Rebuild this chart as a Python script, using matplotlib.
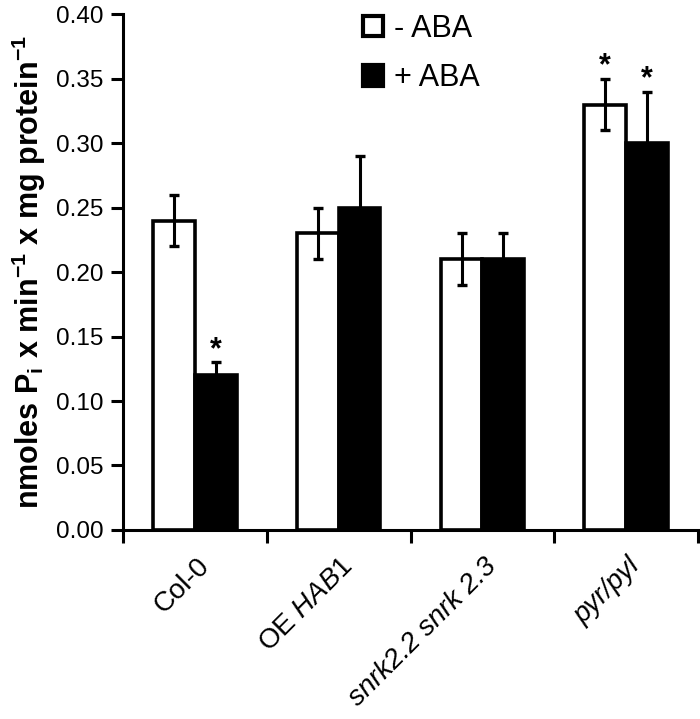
import matplotlib.pyplot as plt
import numpy as np
from matplotlib.patches import Rectangle
from matplotlib.ticker import FormatStrFormatter

plt.rcParams['font.family'] = ['Liberation Sans', 'DejaVu Sans']
plt.rcParams['mathtext.fontset'] = 'custom'
plt.rcParams['mathtext.rm'] = 'Liberation Sans'
plt.rcParams['mathtext.it'] = 'Liberation Sans:italic'
plt.rcParams['mathtext.bf'] = 'Liberation Sans:bold'

# Data
groups = ['Col-0', r'OE $\mathit{HAB1}$', 'snrk2.2 snrk 2.3', 'pyr/pyl']
italic = [False, False, True, True]
minus_aba = [0.24, 0.23, 0.21, 0.33]
minus_err = [0.02, 0.02, 0.02, 0.02]
plus_aba = [0.12, 0.25, 0.21, 0.30]
plus_err = [0.01, 0.04, 0.02, 0.04]
minus_sig = [False, False, False, True]
plus_sig = [True, False, False, True]

x = np.arange(len(groups))
w = 0.29

fig = plt.figure(figsize=(7.0, 7.19), dpi=100)
ax = fig.add_axes([0.176, 0.263, 0.821, 0.717])

err_kw = dict(ecolor='black', elinewidth=2.2, capsize=3.8, capthick=2.4)
ax.bar(x - w / 2, minus_aba, w, yerr=minus_err, color='white', edgecolor='black',
       linewidth=2.6, error_kw=err_kw, zorder=2)
ax.bar(x + w / 2, plus_aba, w, yerr=plus_err, color='black', edgecolor='black',
       linewidth=2.6, error_kw=err_kw, zorder=2)

for i in range(len(groups)):
    if minus_sig[i]:
        ax.text(x[i] - w / 2, minus_aba[i] + minus_err[i] - 0.002, '*', ha='center',
                va='bottom', fontsize=22, fontweight='bold')
    if plus_sig[i]:
        ax.text(x[i] + w / 2, plus_aba[i] + plus_err[i] - 0.002, '*', ha='center',
                va='bottom', fontsize=22, fontweight='bold')

ax.set_xlim(-0.5, len(groups) - 0.5)
ax.set_ylim(0, 0.40)
ax.set_yticks(np.arange(0, 0.401, 0.05))
ax.yaxis.set_major_formatter(FormatStrFormatter('%.2f'))
ax.set_xticks(np.arange(-0.5, len(groups), 1.0))
ax.set_xticklabels([])
for i, lab in enumerate(groups):
    ax.text(x[i] + 0.01, -0.018, lab, rotation=45, ha='right', va='top',
            rotation_mode='anchor', fontsize=20,
            style='italic' if italic[i] else 'normal',
            transform=ax.transData)

for s in ['top', 'right']:
    ax.spines[s].set_visible(False)
for s in ['left', 'bottom']:
    ax.spines[s].set_linewidth(2.2)
ax.tick_params(axis='both', direction='out', length=9, width=2.2, labelsize=17.5, pad=5)

ax.set_ylabel(r'nmoles P$_\mathbf{i}$ x min$^\mathbf{-1}$ x mg protein$^\mathbf{-1}$',
              fontsize=22, fontweight='bold', labelpad=6)

handles = [Rectangle((0, 0), 1, 1, facecolor='white', edgecolor='black', linewidth=3),
           Rectangle((0, 0), 1, 1, facecolor='black', edgecolor='black', linewidth=3)]
ax.legend(handles, ['- ABA', '+ ABA'], loc='upper left', bbox_to_anchor=(0.37, 1.055),
          frameon=False, fontsize=22, handlelength=0.65, handleheight=0.65,
          handletextpad=0.35, labelspacing=0.65)

plt.savefig('out.png', dpi=100)
